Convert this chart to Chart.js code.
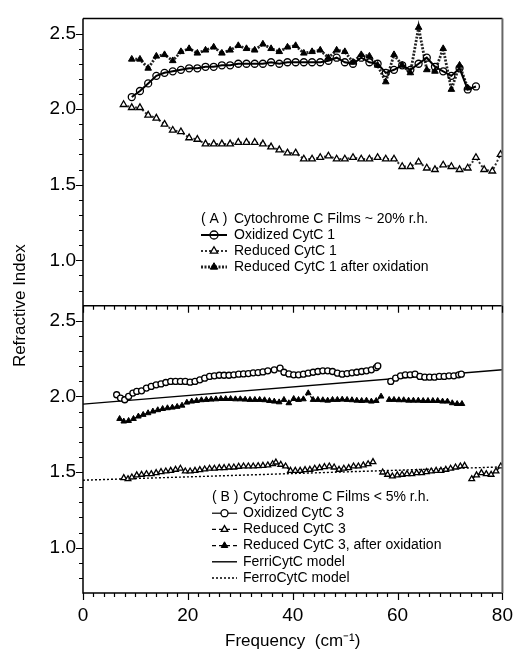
<!DOCTYPE html>
<html>
<head>
<meta charset="utf-8">
<script src="https://cdn.jsdelivr.net/npm/chart.js@4.4.0/dist/chart.umd.min.js"></script>
<style>
  html, body { margin: 0; padding: 0; background: #fff; }
  #wrap { width: 524px; height: 654px; }
</style>
</head>
<body>
<div id="wrap"><canvas id="chart" width="524" height="654"></canvas></div>
<script>
'use strict';

// ---- panel A (~20% r.h.) : shared frequency grid, cm-1
var freqA = [7.74, 9.30, 10.86, 12.43, 13.99, 15.55, 17.12, 18.68, 20.24, 21.81,
  23.37, 24.93, 26.49, 28.06, 29.62, 31.18, 32.75, 34.31, 35.87, 37.44,
  39.00, 40.56, 42.12, 43.69, 45.25, 46.81, 48.38, 49.94, 51.50, 53.07,
  54.63, 56.19, 57.75, 59.32, 60.88, 62.44, 64.01, 65.57, 67.13, 68.70,
  70.26, 71.82, 73.38, 74.95, 76.51, 78.07, 79.64];

// oxidized CytC 1, starts at freqA[1]
var oxA = [2.08, 2.12, 2.17, 2.22, 2.24, 2.25, 2.26, 2.27, 2.27, 2.28,
  2.28, 2.29, 2.29, 2.30, 2.30, 2.30, 2.30, 2.31, 2.30, 2.31,
  2.31, 2.31, 2.31, 2.31, 2.32, 2.34, 2.31, 2.30, 2.34, 2.31,
  2.30, 2.24, 2.26, 2.29, 2.26, 2.30, 2.34, 2.28, 2.25, 2.22,
  2.27, 2.13, 2.15];

// reduced CytC 1, starts at freqA[0]
var redA = [2.03, 2.01, 2.01, 1.96, 1.94, 1.90, 1.86, 1.85, 1.81, 1.80,
  1.77, 1.77, 1.77, 1.77, 1.78, 1.78, 1.78, 1.77, 1.75, 1.73,
  1.71, 1.71, 1.67, 1.67, 1.68, 1.69, 1.67, 1.67, 1.68, 1.67,
  1.67, 1.68, 1.67, 1.67, 1.62, 1.62, 1.65, 1.61, 1.60, 1.63,
  1.62, 1.60, 1.61, 1.68, 1.60, 1.59, 1.70];

// reduced CytC 1 after oxidation, starts at freqA[1]
var redOxA = [2.33, 2.33, 2.27, 2.35, 2.36, 2.32, 2.38, 2.40, 2.37, 2.39,
  2.41, 2.37, 2.39, 2.42, 2.40, 2.39, 2.43, 2.40, 2.38, 2.41,
  2.42, 2.37, 2.38, 2.39, 2.34, 2.39, 2.38, 2.31, 2.36, 2.35,
  2.29, 2.18, 2.36, 2.29, 2.24, 2.54, 2.26, 2.25, 2.40, 2.13,
  2.29, 2.14];

// ---- panel B (<5% r.h.), null = gap in the measurement
var oxFreqB = [6.42, 7.16, 7.96, 8.70, 9.51, 10.25, 11.17, 12.10, 13.02, 13.95,
  14.88, 15.80, 16.73, 17.65, 18.58, 19.51, 20.43, 21.36, 22.28, 23.21,
  24.14, 25.06, 25.99, 26.91, 27.84, 28.77, 29.69, 30.62, 31.54, 32.47,
  33.40, 34.32, 35.25, 36.48, 37.59, 38.33, 39.26, 40.19, 41.11, 42.04,
  42.96, 43.89, 44.81, 45.74, 46.67, 47.59, 48.52, 49.44, 50.37, 51.30,
  52.22, 53.15, 54.07, 55.00, 55.93, 56.23, 57.50,
  58.70, 59.63, 60.56, 61.48, 62.41, 63.33, 64.26, 65.19, 66.11, 67.04,
  67.96, 68.89, 69.81, 70.74, 71.67, 72.16];
var oxB = [2.011, 1.989, 1.978, 2.000, 2.022, 2.033, 2.037, 2.055, 2.066, 2.077,
  2.083, 2.092, 2.099, 2.099, 2.099, 2.099, 2.094, 2.099, 2.110, 2.121,
  2.132, 2.136, 2.140, 2.140, 2.140, 2.143, 2.147, 2.149, 2.151, 2.156,
  2.158, 2.162, 2.169, 2.176, 2.187, 2.160, 2.149, 2.143, 2.143, 2.147,
  2.154, 2.160, 2.165, 2.169, 2.169, 2.165, 2.154, 2.147, 2.151, 2.156,
  2.160, 2.165, 2.169, 2.176, 2.191, 2.202, null,
  2.099, 2.121, 2.136, 2.143, 2.143, 2.147, 2.132, 2.127, 2.127, 2.127,
  2.132, 2.132, 2.136, 2.136, 2.143, 2.147];

var redFreqB = [7.78, 8.58, 9.32, 10.25, 11.17, 12.10, 13.02, 13.95, 14.88, 15.80,
  16.73, 17.65, 18.58, 19.51, 20.43, 21.36, 22.28, 23.21, 24.14, 25.06,
  25.99, 26.91, 27.84, 28.77, 29.69, 30.62, 31.54, 32.47, 33.40, 34.32,
  35.25, 36.17, 36.79, 37.72, 38.64, 39.57, 40.49, 41.42, 42.35, 43.27,
  44.20, 45.12, 46.05, 46.98, 47.90, 48.83, 49.75, 50.68, 51.60, 52.53,
  53.46, 54.38, 55.31, 56.20,
  57.16, 58.09, 59.01, 59.94, 60.86, 61.79, 62.72, 63.64, 64.57, 65.49,
  66.42, 67.35, 68.27, 69.20, 70.12, 71.05, 71.98, 72.78, 73.50,
  74.14, 75.06, 75.99, 76.91, 77.84, 78.77, 79.69];
var redB = [1.461, 1.454, 1.465, 1.479, 1.483, 1.487, 1.487, 1.494, 1.501, 1.505,
  1.509, 1.516, 1.523, 1.505, 1.505, 1.509, 1.514, 1.518, 1.523, 1.523,
  1.527, 1.527, 1.531, 1.531, 1.536, 1.538, 1.538, 1.538, 1.540, 1.542,
  1.545, 1.553, 1.564, 1.549, 1.538, 1.509, 1.509, 1.509, 1.514, 1.516,
  1.523, 1.527, 1.534, 1.538, 1.531, 1.516, 1.523, 1.527, 1.538, 1.538,
  1.545, 1.553, 1.567, null,
  1.498, 1.483, 1.472, 1.479, 1.483, 1.487, 1.487, 1.494, 1.494, 1.501,
  1.505, 1.509, 1.509, 1.516, 1.523, 1.531, 1.538, 1.542, null,
  1.454, 1.479, 1.494, 1.487, 1.483, 1.505, 1.538];

var redOxFreqB = [6.98, 7.78, 8.70, 9.63, 10.56, 11.48, 12.41, 13.33, 14.26, 15.19,
  16.11, 17.04, 17.96, 18.89, 19.81, 20.74, 21.67, 22.59, 23.52, 24.44,
  25.37, 26.30, 27.22, 28.15, 29.07, 30.00, 30.93, 31.85, 32.78, 33.70,
  34.63, 35.56, 36.48, 37.41, 38.33, 39.26, 40.19, 41.11, 42.04, 42.96,
  43.89, 44.81, 45.74, 46.67, 47.59, 48.52, 49.44, 50.37, 51.30, 52.22,
  53.15, 54.07, 55.00, 55.93, 56.85, 57.60,
  58.40, 59.32, 60.25, 61.17, 62.10, 63.02, 63.95, 64.88, 65.80, 66.73,
  67.65, 68.58, 69.51, 70.43, 71.36, 72.28];
var redOxB = [1.852, 1.835, 1.839, 1.852, 1.868, 1.879, 1.890, 1.901, 1.910, 1.918,
  1.923, 1.927, 1.932, 1.940, 1.960, 1.967, 1.971, 1.976, 1.978, 1.980,
  1.982, 1.984, 1.984, 1.984, 1.982, 1.982, 1.980, 1.978, 1.978, 1.978,
  1.976, 1.971, 1.967, 1.962, 1.978, 1.956, 1.984, 1.978, 1.982, 2.022,
  1.978, 1.978, 1.976, 1.973, 1.978, 1.978, 1.980, 1.978, 1.976, 1.973,
  1.971, 1.973, 1.967, 1.971, 2.000, null,
  1.978, 1.978, 1.976, 1.976, 1.973, 1.973, 1.973, 1.971, 1.971, 1.971,
  1.971, 1.967, 1.967, 1.956, 1.951, 1.951];

// model curves
var modelFreq = [0, 80];
var ferriModel = [1.949, 2.176];
var ferroModel = [1.446, 1.534];

var xTickValues = [0, 20, 40, 60, 80];
var yTickValues = [1.0, 1.5, 2.0, 2.5];

var FONT = "'Liberation Sans', Arial, Helvetica, sans-serif";
Chart.defaults.font.family = FONT;
Chart.defaults.color = '#000';

var pts = function(xs, ys, offset) {
  return ys.map(function(y, i) { return {x: xs[i + (offset || 0)], y: y}; });
};

// marker/line styles, reused by the hand-drawn legends
var sOxA = {borderColor: '#000', borderWidth: 2, borderDash: [], pointStyle: 'circle', pointRadius: 3.5, pointBackgroundColor: 'rgba(0,0,0,0)', pointBorderWidth: 1.3};
var sRedA = {borderColor: '#333', borderWidth: 2, borderDash: [2, 2], pointStyle: 'triangle', pointRadius: 3.8, pointBackgroundColor: '#fff', pointBorderWidth: 1.3};
var sRedOxA = {borderColor: '#222', borderWidth: 2.8, borderDash: [2, 1.5], pointStyle: 'triangle', pointRadius: 3.8, pointBackgroundColor: '#000', pointBorderWidth: 1};
var sOxB = {borderColor: '#000', borderWidth: 1.2, borderDash: [], pointStyle: 'circle', pointRadius: 3, pointBackgroundColor: '#fff', pointBorderWidth: 1.3};
var sRedB = {borderColor: '#000', borderWidth: 1.2, borderDash: [4, 3], pointStyle: 'triangle', pointRadius: 3.3, pointBackgroundColor: '#fff', pointBorderWidth: 1.3};
var sRedOxB = {borderColor: '#000', borderWidth: 1.2, borderDash: [4, 3], pointStyle: 'triangle', pointRadius: 3.3, pointBackgroundColor: '#000', pointBorderWidth: 1};
var sFerri = {borderColor: '#000', borderWidth: 1.4, borderDash: [], pointRadius: 0};
var sFerro = {borderColor: '#000', borderWidth: 1.4, borderDash: [2, 2], pointRadius: 0};

var ds = function(label, data, axis, style) {
  var d = {label: label, data: data, yAxisID: axis, tension: 0, spanGaps: false,
    pointBorderColor: '#000', fill: false};
  Object.keys(style).forEach(function(k) { d[k] = style[k]; });
  return d;
};

var legendA = {
  title: ['( A )', 'Cytochrome C Films ~ 20% r.h.'], titleY: 219, x0: 201, x1: 227, tx: 234, dy: 16,
  items: [['Oxidized CytC 1', sOxA], ['Reduced CytC 1', sRedA], ['Reduced CytC 1 after oxidation', sRedOxA]]
};
var legendB = {
  title: ['( B )', 'Cytochrome C Films < 5% r.h.'], titleY: 497, x0: 212, x1: 237, tx: 243, dy: 16.2,
  items: [['Oxidized CytC 3', sOxB], ['Reduced CytC 3', sRedB], ['Reduced CytC 3, after oxidation', sRedOxB],
    ['FerriCytC model', sFerri], ['FerroCytC model', sFerro]]
};

var drawLegend = function(ctx, lg) {
  ctx.font = '14px ' + FONT;
  ctx.textBaseline = 'middle';
  ctx.textAlign = 'left';
  ctx.fillStyle = '#000';
  ctx.fillText(lg.title[0], lg.x0, lg.titleY);
  ctx.fillText(lg.title[1], lg.tx, lg.titleY);
  lg.items.forEach(function(it, i) {
    var y = lg.titleY + lg.dy * (i + 1), st = it[1];
    ctx.save();
    ctx.strokeStyle = st.borderColor;
    ctx.lineWidth = st.borderWidth;
    ctx.setLineDash(st.borderDash || []);
    ctx.beginPath(); ctx.moveTo(lg.x0, y); ctx.lineTo(lg.x1, y); ctx.stroke();
    ctx.setLineDash([]);
    if (st.pointRadius) {
      ctx.strokeStyle = '#000';
      ctx.fillStyle = st.pointBackgroundColor;
      ctx.lineWidth = st.pointBorderWidth;
      Chart.helpers.drawPoint(ctx, {pointStyle: st.pointStyle, radius: st.pointRadius + 0.5, rotation: 0, borderWidth: st.pointBorderWidth},
        (lg.x0 + lg.x1) / 2, y);
    }
    ctx.restore();
    ctx.fillStyle = '#000';
    ctx.fillText(it[0], lg.tx, y);
  });
};

var decor = {
  id: 'decor',
  afterDraw: function(chart) {
    var ctx = chart.ctx, area = chart.chartArea;
    var x = chart.scales.x, yT = chart.scales.yTop, yB = chart.scales.yBot;
    var mid = yT.bottom;
    ctx.save();
    ctx.strokeStyle = '#000';
    ctx.lineWidth = 1.5;
    ctx.beginPath();
    ctx.moveTo(area.left, area.top); ctx.lineTo(area.right, area.top);
    ctx.moveTo(area.left, area.top); ctx.lineTo(area.left, area.bottom); ctx.lineTo(area.right, area.bottom);
    ctx.moveTo(area.left, mid); ctx.lineTo(area.right, mid);
    ctx.stroke();
    ctx.strokeStyle = '#666';
    ctx.lineWidth = 2;
    ctx.beginPath(); ctx.moveTo(area.right, area.top); ctx.lineTo(area.right, area.bottom); ctx.stroke();

    // x ticks hang below the divider and the bottom axis
    ctx.strokeStyle = '#000';
    ctx.lineWidth = 1.2;
    ctx.beginPath();
    [mid, area.bottom].forEach(function(base) {
      for (var v = 0; v <= 80; v += 2) {
        var px = Math.round(x.getPixelForValue(v)) + 0.5;
        ctx.moveTo(px, base); ctx.lineTo(px, base + (v % 20 === 0 ? 7 : 4));
      }
    });
    // y ticks point left
    [yT, yB].forEach(function(s) {
      for (var k = 8; k <= 25; k++) {
        var py = Math.round(s.getPixelForValue(k / 10)) + 0.5;
        ctx.moveTo(area.left - (k % 5 === 0 ? 7 : 4), py); ctx.lineTo(area.left, py);
      }
    });
    ctx.stroke();

    drawLegend(ctx, legendA);
    drawLegend(ctx, legendB);

    // shared y title
    ctx.translate(20, (area.top + area.bottom) / 2);
    ctx.rotate(-Math.PI / 2);
    ctx.font = '17px ' + FONT;
    ctx.textAlign = 'center';
    ctx.textBaseline = 'middle';
    ctx.fillStyle = '#000';
    ctx.fillText('Refractive Index', 0, 0);
    ctx.restore();
  }
};

var yAxis = function() {
  return {
    type: 'linear', position: 'left', stack: 'panels', stackWeight: 1,
    min: 0.7, max: 2.6,
    grid: {display: false, drawTicks: false},
    border: {display: false},
    ticks: {font: {size: 19}, padding: 7, callback: function(v) { return v.toFixed(1); }},
    afterBuildTicks: function(s) { s.ticks = yTickValues.map(function(v) { return {value: v}; }); },
    afterFit: function(s) { s.width = 83; }
  };
};

var chart = new Chart(document.getElementById('chart').getContext('2d'), {
  type: 'line',
  data: {
    datasets: [
      ds('Oxidized CytC 1', pts(freqA, oxA, 1), 'yTop', sOxA),
      ds('Reduced CytC 1', pts(freqA, redA), 'yTop', sRedA),
      ds('Reduced CytC 1 after oxidation', pts(freqA, redOxA, 1), 'yTop', sRedOxA),
      ds('Oxidized CytC 3', pts(oxFreqB, oxB), 'yBot', sOxB),
      ds('Reduced CytC 3', pts(redFreqB, redB), 'yBot', sRedB),
      ds('Reduced CytC 3, after oxidation', pts(redOxFreqB, redOxB), 'yBot', sRedOxB),
      ds('FerriCytC model', pts(modelFreq, ferriModel), 'yBot', sFerri),
      ds('FerroCytC model', pts(modelFreq, ferroModel), 'yBot', sFerro)
    ]
  },
  options: {
    responsive: false,
    animation: false,
    layout: {padding: {top: 16, right: 9, left: 0, bottom: 0}},
    plugins: {legend: {display: false}, tooltip: {enabled: false}},
    scales: {
      x: {
        type: 'linear', min: 0, max: 80,
        grid: {display: false, drawTicks: false},
        border: {display: false},
        ticks: {font: {size: 19}, padding: 11, maxRotation: 0, autoSkip: false,
          callback: function(v) { return String(v); }},
        afterBuildTicks: function(s) { s.ticks = xTickValues.map(function(v) { return {value: v}; }); },
        afterFit: function(s) { s.height = 61; },
        title: {display: true, text: 'Frequency  (cm\u207B\u00B9)', font: {size: 17}, padding: {top: 0, bottom: 2}}
      },
      yBot: yAxis(),
      yTop: yAxis()
    }
  },
  plugins: [decor]
});
</script>
</body>
</html>
